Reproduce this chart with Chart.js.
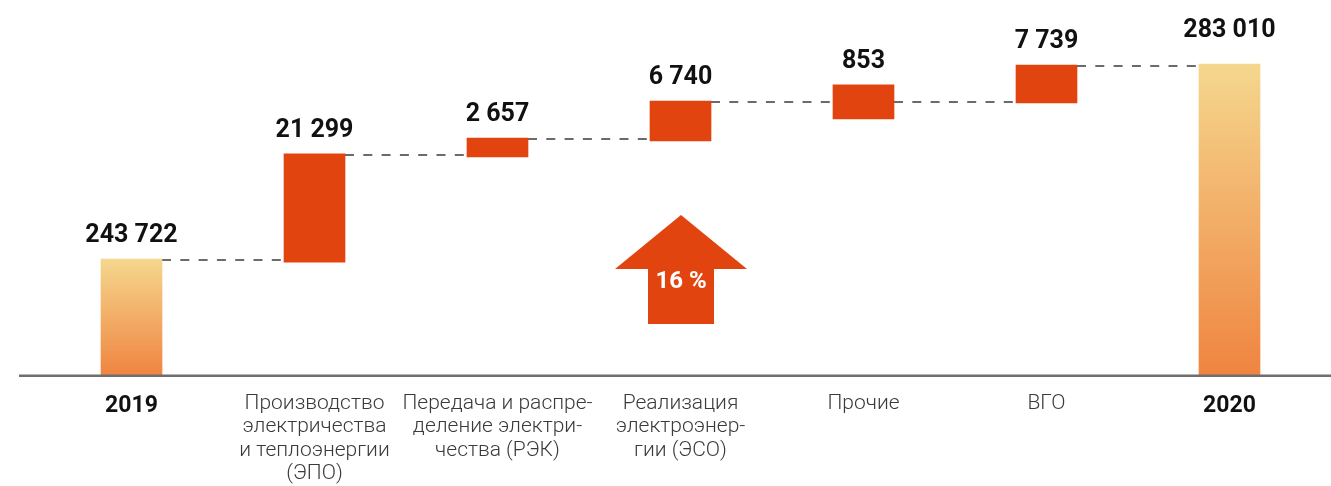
<!DOCTYPE html>
<html>
<head>
<meta charset="utf-8">
<script src="https://cdn.jsdelivr.net/npm/chart.js@4.4.1/dist/chart.umd.min.js"></script>
<style>
  html, body { margin: 0; background: #fff; }
  #wrap { width: 1331px; height: 486px; }
</style>
</head>
<body>
<div id="wrap"><canvas id="chart"></canvas></div>
<script>
// categories (multi-line tick labels)
const categories = [
  ['2019'],
  ['Производство', 'электричества', 'и теплоэнергии', '(ЭПО)'],
  ['Передача и распре-', 'деление электри-', 'чества (РЭК)'],
  ['Реализация', 'электроэнер-', 'гии (ЭСО)'],
  ['Прочие'],
  ['ВГО'],
  ['2020']
];
// printed values
const values = [243722, 21299, 2657, 6740, 853, 7739, 283010];
// bar extents (the increments are not drawn to scale there)
const barLow  = [220150, 243100, 264300, 267500, 271950, 275150, 220150];
const barHigh = [243722, 264900, 268100, 275550, 278800, 282800, 283010];
// level of the dashed connector from bar i to bar i+1
const links = [243500, 264700, 267900, 275350, 275350, 282600];
const growth = '16 %';

const totals = [0, 6];
const RED = '#e2440f';
const fmt = v => String(v).replace(/\B(?=(\d{3})+(?!\d))/g, ' ');

const waterfall = {
  id: 'waterfall',
  beforeDatasetsDraw(chart) {
    const ctx = chart.ctx;
    const bars = chart.getDatasetMeta(0).data;
    const y = chart.scales.y;
    ctx.save();
    ctx.strokeStyle = '#6b6b6b';
    ctx.lineWidth = 2;
    ctx.setLineDash([9, 9.3]);
    links.forEach((v, i) => {
      const a = bars[i], b = bars[i + 1];
      const py = Math.round(y.getPixelForValue(v));
      ctx.beginPath();
      ctx.moveTo(a.x + a.width / 2, py);
      ctx.lineTo(b.x - b.width / 2, py);
      ctx.stroke();
    });
    ctx.restore();
  },
  afterDatasetsDraw(chart) {
    const ctx = chart.ctx;
    const bars = chart.getDatasetMeta(0).data;
    const base = chart.scales.y.getPixelForValue(chart.scales.y.min);
    ctx.save();
    // axis line
    ctx.strokeStyle = '#6e6e6e';
    ctx.lineWidth = 2.5;
    ctx.beginPath();
    ctx.moveTo(19, base - 0.3);
    ctx.lineTo(chart.width, base - 0.3);
    ctx.stroke();
    // value labels
    ctx.fillStyle = '#111';
    ctx.font = 'bold 25px Roboto';
    ctx.textAlign = 'center';
    ctx.textBaseline = 'alphabetic';
    bars.forEach((b, i) => {
      const lift = i === bars.length - 1 ? 27 : 17;
      ctx.fillText(fmt(values[i]), b.x, b.y - lift);
    });
    // growth arrow
    const cx = chart.scales.x.getPixelForValue(3) + 0.5;
    ctx.fillStyle = RED;
    ctx.beginPath();
    ctx.moveTo(cx, 215);
    ctx.lineTo(cx + 66, 269);
    ctx.lineTo(cx + 33, 269);
    ctx.lineTo(cx + 33, 324);
    ctx.lineTo(cx - 33, 324);
    ctx.lineTo(cx - 33, 269);
    ctx.lineTo(cx - 66, 269);
    ctx.closePath();
    ctx.fill();
    ctx.fillStyle = '#fff';
    ctx.font = 'bold 24px Roboto';
    ctx.textBaseline = 'middle';
    ctx.fillText(growth, cx, 282);
    ctx.restore();
  }
};

const ctx = document.getElementById('chart').getContext('2d');
new Chart(ctx, {
  type: 'bar',
  data: {
    labels: categories,
    datasets: [{
      data: barLow.map((l, i) => [l, barHigh[i]]),
      barThickness: 61,
      borderWidth: 0,
      backgroundColor: function(c) {
        if (!totals.includes(c.dataIndex)) return RED;
        const area = c.chart.chartArea;
        if (!area) return '#f2b070';
        const y = c.chart.scales.y;
        const top = y.getPixelForValue(barHigh[c.dataIndex]);
        const bottom = y.getPixelForValue(barLow[c.dataIndex]);
        const g = c.chart.ctx.createLinearGradient(0, top, 0, bottom);
        g.addColorStop(0, '#f5d78e');
        g.addColorStop(1, '#ef8440');
        return g;
      }
    }]
  },
  options: {
    responsive: true,
    maintainAspectRatio: false,
    animation: false,
    layout: { padding: { left: 40, right: 10, top: 0, bottom: 0 } },
    plugins: { legend: { display: false }, tooltip: { enabled: false } },
    scales: {
      x: {
        grid: { display: false, drawTicks: false },
        border: { display: false },
        ticks: {
          padding: 16,
          maxRotation: 0,
          autoSkip: false,
          color: c => totals.includes(c.index) ? '#111' : '#3a3a3a',
          font: c => totals.includes(c.index)
            ? { family: 'Roboto', size: 23, weight: 'bold', lineHeight: '28px' }
            : { family: 'Roboto', size: 21, weight: '300', lineHeight: '23.3px' }
        },
        afterFit: s => { s.height = 110; }
      },
      y: { display: false, min: 220150, max: 295900 }
    }
  },
  plugins: [waterfall]
});
</script>
</body>
</html>
